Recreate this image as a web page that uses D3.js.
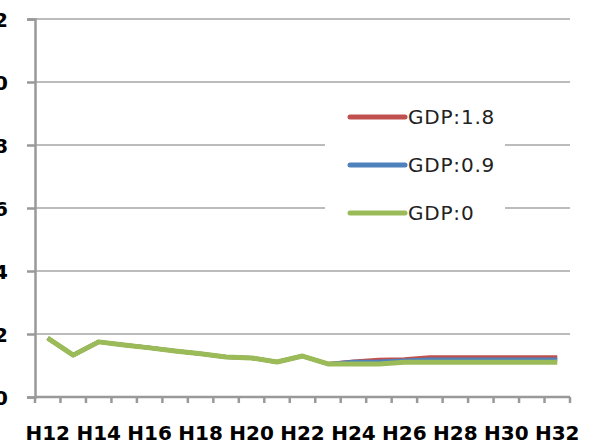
<!DOCTYPE html>
<html>
  <head>
    <meta charset="utf-8">
    <script src="https://d3js.org/d3.v7.min.js"></script>
    <style>
      body { margin: 0; background: #fff; }
    </style>
  </head>
  <body>
    <svg id="chart"></svg>
    <script>
      // categories H12..H32
      var years = ["H12","H13","H14","H15","H16","H17","H18","H19","H20","H21","H22",
                   "H23","H24","H25","H26","H27","H28","H29","H30","H31","H32"];
      var yTicks = [0, 2, 4, 6, 8, 10, 12];

      var gdp18 = [1.87,1.33,1.75,1.65,1.56,1.46,1.37,1.27,1.24,1.11,1.30,
                   1.05,1.13,1.18,1.20,1.26,1.26,1.26,1.26,1.26,1.26];
      var gdp09 = [1.87,1.33,1.75,1.65,1.56,1.46,1.37,1.27,1.24,1.11,1.30,
                   1.05,1.12,1.13,1.16,1.19,1.19,1.19,1.19,1.19,1.19];
      var gdp0  = [1.87,1.33,1.75,1.65,1.56,1.46,1.37,1.27,1.24,1.11,1.30,
                   1.05,1.05,1.05,1.10,1.10,1.10,1.10,1.10,1.10,1.10];

      var seriesNames = ["GDP:1.8", "GDP:0.9", "GDP:0"];
      var seriesData = [gdp18, gdp09, gdp0];
      var colors = ["#C0504D", "#4F81BD", "#9BBB59"];
      var widths = [4, 4, 5];

      var W = 597, H = 445;
      var mLeft = 35, mRight = 570, mTop = 19, mBottom = 397;
      var labelFont = "'DejaVu Sans', sans-serif";

      var svg = d3.select("#chart").attr("width", W).attr("height", H);

      var x = d3.scaleBand().domain(years).range([mLeft, mRight]);
      var y = d3.scaleLinear().domain([0, 12]).range([mBottom, mTop]);

      // gridlines
      svg.append("g").selectAll("line")
        .data(yTicks.slice(1))
        .enter().append("line")
          .attr("x1", mLeft).attr("x2", mRight)
          .attr("y1", function(d) { return y(d); })
          .attr("y2", function(d) { return y(d); })
          .attr("stroke", "#a6a6a6").attr("stroke-width", 1.5);

      // y axis (labels run off the left edge, as in the source)
      var yAxis = svg.append("g")
        .attr("transform", "translate(" + mLeft + ",0)")
        .call(d3.axisLeft(y).tickValues(yTicks).tickSize(8));
      yAxis.select(".domain").attr("stroke", "#999").attr("stroke-width", 2.5);
      yAxis.selectAll(".tick line").attr("stroke", "#999").attr("stroke-width", 2.5);
      yAxis.selectAll(".tick text")
        .attr("font-size", 20).attr("font-weight", "bold").attr("fill", "#000")
        .attr("font-family", labelFont)
        .attr("x", 8 - mLeft).attr("dy", "0.35em");

      // x axis: ticks between categories
      var xg = svg.append("g");
      xg.append("line")
        .attr("x1", mLeft).attr("x2", mRight).attr("y1", mBottom).attr("y2", mBottom)
        .attr("stroke", "#999").attr("stroke-width", 2.5);
      var bounds = years.map(function(d) { return x(d); }).concat([mRight]);
      xg.selectAll(".tk").data(bounds).enter().append("line")
        .attr("class", "tk")
        .attr("x1", function(d) { return d; }).attr("x2", function(d) { return d; })
        .attr("y1", mBottom).attr("y2", mBottom + 6)
        .attr("stroke", "#999").attr("stroke-width", 2.5);
      xg.selectAll("text")
        .data(years.filter(function(d, i) { return i % 2 === 0; }))
        .enter().append("text")
          .attr("x", function(d) { return x(d) + x.bandwidth() / 2; })
          .attr("y", 440)
          .attr("text-anchor", "middle")
          .attr("font-family", labelFont)
          .attr("font-size", 20).attr("font-weight", "bold")
          .text(function(d) { return d; });

      // lines
      var line = d3.line()
        .x(function(d, i) { return x(years[i]) + x.bandwidth() / 2; })
        .y(function(d) { return y(d); });

      svg.append("g").selectAll("path")
        .data(seriesData)
        .enter().append("path")
          .attr("d", line)
          .attr("fill", "none")
          .attr("stroke", function(d, i) { return colors[i]; })
          .attr("stroke-width", function(d, i) { return widths[i]; })
          .attr("stroke-linejoin", "round");

      // legend
      var lg = svg.append("g");
      lg.append("rect")
        .attr("x", 325).attr("y", 92).attr("width", 180).attr("height", 145)
        .attr("fill", "#fff");
      var item = lg.selectAll(".item").data(seriesNames)
        .enter().append("g")
          .attr("transform", function(d, i) { return "translate(0," + (117 + i * 48) + ")"; });
      item.append("line")
        .attr("x1", 350).attr("x2", 405)
        .attr("stroke", function(d, i) { return colors[i]; })
        .attr("stroke-width", 5).attr("stroke-linecap", "round");
      item.append("text")
        .attr("x", 408).attr("dy", "0.35em")
        .attr("font-size", 20).attr("fill", "#222")
        .attr("letter-spacing", 0.8)
        .attr("font-family", labelFont)
        .text(function(d) { return d; });
    </script>
  </body>
</html>
